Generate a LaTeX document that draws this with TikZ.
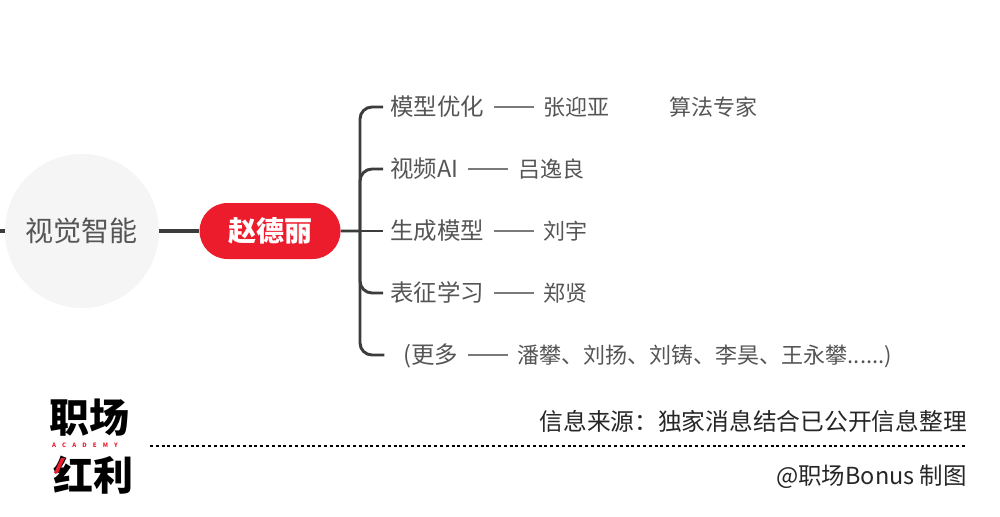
\documentclass[tikz,border=0pt]{standalone}
\usepackage{fontspec}
\setmainfont{Noto Sans CJK SC}
\usetikzlibrary{positioning,shapes.misc}
\definecolor{leadred}{HTML}{EC1C2C}
\definecolor{circlegray}{HTML}{F6F5F5}
\definecolor{linedark}{HTML}{3C3C3C}
\definecolor{textgray}{HTML}{555555}
\definecolor{dashgray}{HTML}{7A7A7A}
\begin{document}
\begin{tikzpicture}[x=0.75pt,y=-0.75pt,node distance=44.5pt,
    topic node/.style={circle,fill=circlegray,minimum size=115.5pt,inner sep=0pt,text=textgray,font=\fontsize{21}{25}\selectfont},
    lead node/.style={rounded rectangle,fill=leadred,minimum width=105.75pt,minimum height=42pt,inner sep=0pt,text=white,font=\fontsize{21}{25}\selectfont\bfseries},
    branch node/.style={inner sep=0pt,text=textgray,text height=15.5pt,text depth=2.1pt,font=\fontsize{17.6}{21}\selectfont},
    name node/.style={inner sep=0pt,text=textgray,text height=14.5pt,text depth=2pt,font=\fontsize{16.5}{20}\selectfont},
    note node/.style={inner sep=0pt,text=black!85,font=\fontsize{17.8}{21}\selectfont},
    logo node/.style={inner sep=0pt,text=black,font=\fontsize{30}{32}\selectfont\bfseries},
    fork line/.style={draw=linedark,line width=2.2pt,rounded corners=9pt,shorten >=5pt},
    name line/.style={draw=dashgray,line width=1.4pt,shorten <=7pt,shorten >=7pt}]
    \useasboundingbox (0,0) rectangle (1000,517);
    \node[topic node] (topic) at (82,231) {视觉智能};
    \node[lead node] (lead) [right=30pt of topic] {赵德丽};
    \node[branch node] (gen) [right=36.75pt of lead] {生成模型};
    \node[branch node] (video) [above=46.5pt of gen.west,anchor=west] {视频AI};
    \node[branch node] (model) [above=46.5pt of video.west,anchor=west] {模型优化};
    \node[branch node] (repr) [below=46.5pt of gen.west,anchor=west] {表征学习};
    \node[branch node] (more) [below=46.5pt of repr.west,anchor=west,xshift=9.75pt] {(更多};
    \node[name node] (zhang) [right=of model] {张迎亚};
    \node[name node] (expert) [right=of zhang] {算法专家};
    \node[name node] (lv) [right=of video] {吕逸良};
    \node[name node] (liu) [right=of gen] {刘宇};
    \node[name node] (zheng) [right=of repr] {郑贤};
    \node[name node] (others) [right=of more] {潘攀、刘扬、刘铸、李昊、王永攀......)};
    \coordinate (stub) at (0,231);
    \coordinate (fork) at (360,231);
    \path[draw=linedark,line width=2.8pt]
        (stub) edge (topic)
        (topic) edge (lead);
    \draw[draw=linedark,line width=2.2pt] (lead) -- (fork);
    \draw[fork line] (fork) |- (model.west);
    \draw[fork line] (fork) |- (video.west);
    \draw[fork line] (fork) -- (gen.west);
    \draw[fork line] (fork) |- (repr.west);
    \draw[fork line] (fork) |- (more.west -| 391,355);
    \path[name line]
        (model) edge (zhang)
        (video) edge (lv)
        (gen) edge (liu)
        (repr) edge (zheng)
        (more) edge (others);
    \node[logo node] (brandtop) at (89,418) {职场};
    \node[logo node] (brandbottom) at (93,475) {红利};
    \node[inner sep=0pt,text=leadred,font=\fontsize{4.5}{5}\selectfont\itshape\bfseries] (academy) at (85,445) {A\hspace{4.6pt}C\hspace{4.6pt}A\hspace{4.6pt}D\hspace{4.6pt}E\hspace{4.6pt}M\hspace{4.6pt}Y};
    \fill[leadred] (61,458) -- (65,458) -- (58,473) -- (54,473) -- cycle;
    \node[note node,anchor=east] (source) at (967,421) {信息来源\symbol{"FF1A}独家消息结合已公开信息整理};
    \node[note node,anchor=east,font=\fontsize{17.6}{21}\selectfont] (credit) at (967,477) {@职场Bonus 制图};
    \coordinate (dotstart) at (150,446);
    \coordinate (dotend) at (967,446);
    \draw[line width=2.2pt,dash pattern=on 2.2pt off 2.15pt,black] (dotstart) -- (dotend);
\end{tikzpicture}
\end{document}
